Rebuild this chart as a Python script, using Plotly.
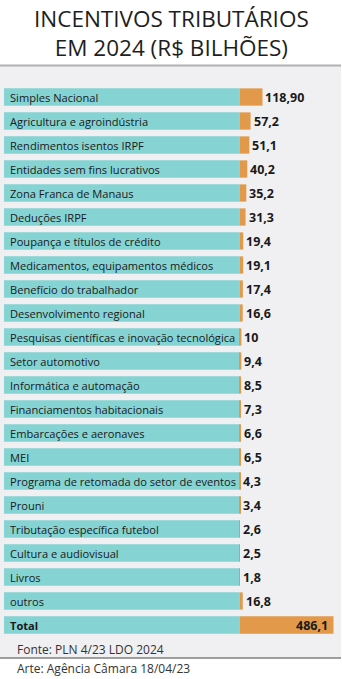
import plotly.graph_objects as go

# ---- data ----
categories = [
    "Simples Nacional", "Agricultura e agroindústria", "Rendimentos isentos IRPF",
    "Entidades sem fins lucrativos", "Zona Franca de Manaus", "Deduções IRPF",
    "Poupança e títulos de crédito", "Medicamentos, equipamentos médicos",
    "Benefício do trabalhador", "Desenvolvimento regional",
    "Pesquisas científicas e inovação tecnológica", "Setor automotivo",
    "Informática e automação", "Financiamentos habitacionais",
    "Embarcações e aeronaves", "MEI", "Programa de retomada do setor de eventos",
    "Prouni", "Tributação específica futebol", "Cultura e audiovisual", "Livros",
    "outros",
]
values = [118.90, 57.2, 51.1, 40.2, 35.2, 31.3, 19.4, 19.1, 17.4, 16.6, 10, 9.4,
          8.5, 7.3, 6.6, 6.5, 4.3, 3.4, 2.6, 2.5, 1.8, 16.8]
value_labels = ["118,90", "57,2", "51,1", "40,2", "35,2", "31,3", "19,4", "19,1",
                "17,4", "16,6", "10", "9,4", "8,5", "7,3", "6,6", "6,5", "4,3",
                "3,4", "2,6", "2,5", "1,8", "16,8"]
total_label = "Total"
total_value = 486.1
total_text = "486,1"

title_text = "INCENTIVOS TRIBUTÁRIOS<br>EM 2024 (R$ BILHÕES)"
source_text = "Fonte: PLN 4/23 LDO 2024"
credit_text = "Arte: Agência Câmara 18/04/23"

# ---- layout constants (pixels) ----
W, H = 342, 679
PX_PER_UNIT = 94 / 486.1      # orange bar scale
ZERO_PX = 239.5               # where orange bars start
BOX_LEFT_PX = 4               # left edge of teal label boxes
TOP, BOTTOM = 85, 42

TEAL = "#85d3d3"
ORANGE = "#e2994a"
PANEL = "#f0f0f2"
FONT = "Open Sans"

xmin = -ZERO_PX / PX_PER_UNIT
xmax = (W - ZERO_PX) / PX_PER_UNIT
box_units = (ZERO_PX - BOX_LEFT_PX) / PX_PER_UNIT

all_cats = categories + [total_label]
all_vals = values + [total_value]
n = len(all_cats)

fig = go.Figure()
fig.add_trace(go.Bar(
    y=all_cats, x=[box_units] * n, base=[-box_units] * n, orientation="h",
    marker=dict(color=TEAL, line=dict(width=0)), hoverinfo="skip",
))
fig.add_trace(go.Bar(
    y=all_cats, x=all_vals, base=[0] * n, orientation="h",
    marker=dict(color=ORANGE, line=dict(width=0)),
))

ann = []
for i, c in enumerate(all_cats):
    bold = c == total_label
    ann.append(dict(
        x=-box_units, y=c, xref="x", yref="y", text=f"<b>{c}</b>" if bold else c,
        showarrow=False, xanchor="left", xshift=4,
        font=dict(family=FONT, size=11.1, color="#1a1a1a"),
    ))
for c, v, t in zip(categories, values, value_labels):
    ann.append(dict(
        x=v, y=c, xref="x", yref="y", text=f"<b>{t}</b>", showarrow=False,
        xanchor="left", xshift=1, font=dict(family=FONT, size=12.5, color="#1a1a1a"),
    ))
ann.append(dict(
    x=total_value, y=total_label, xref="x", yref="y", text=f"<b>{total_text}</b>",
    showarrow=False, xanchor="right", xshift=-4,
    font=dict(family=FONT, size=12.5, color="#1a1a1a"),
))

plot_h = H - TOP - BOTTOM


def py(p):
    """pixel y -> paper y"""
    return (H - BOTTOM - p) / plot_h


ann.append(dict(x=0.5, y=py(33), xref="paper", yref="paper", text=title_text,
                showarrow=False, xanchor="center", yanchor="middle",
                font=dict(family=FONT, size=22.5, color="#1e1e1e", weight=500)))
ann.append(dict(x=15 / W, y=py(649), xref="paper", yref="paper", text=source_text,
                showarrow=False, xanchor="left", yanchor="middle",
                font=dict(family=FONT, size=12, color="#333333")))
ann.append(dict(x=15 / W, y=py(668), xref="paper", yref="paper", text=credit_text,
                showarrow=False, xanchor="left", yanchor="middle",
                font=dict(family=FONT, size=12, color="#333333")))

shapes = [
    dict(type="rect", xref="paper", yref="paper", x0=0, x1=341 / W,
         y0=py(658), y1=py(65), fillcolor=PANEL, line=dict(width=0), layer="below"),
    dict(type="line", xref="paper", yref="paper", x0=0, x1=341 / W,
         y0=py(65.5), y1=py(65.5), line=dict(color="#b0b0b0", width=2)),
    dict(type="line", xref="paper", yref="paper", x0=0, x1=341 / W,
         y0=py(658), y1=py(658), line=dict(color="#808080", width=1.5)),
]

fig.update_layout(
    width=W, height=H, margin=dict(l=0, r=0, t=TOP, b=BOTTOM),
    barmode="overlay", bargap=0.28, showlegend=False,
    paper_bgcolor="white", plot_bgcolor="rgba(0,0,0,0)",
    xaxis=dict(range=[xmin, xmax], visible=False, fixedrange=True),
    yaxis=dict(categoryorder="array", categoryarray=all_cats, autorange="reversed",
               visible=False, fixedrange=True),
    annotations=ann, shapes=shapes,
)

fig.write_html("out.html", config={"displayModeBar": False})
